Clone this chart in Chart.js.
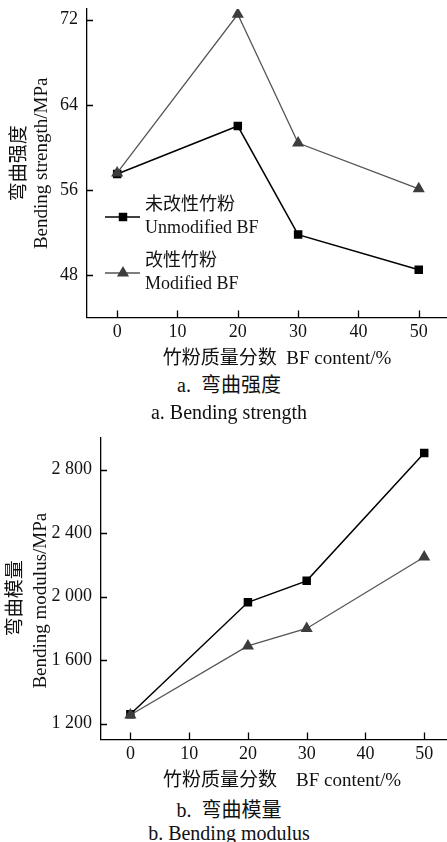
<!DOCTYPE html>
<html>
<head>
<meta charset="utf-8">
<script src="https://cdn.jsdelivr.net/npm/chart.js@4.4.1/dist/chart.umd.min.js"></script>
<style>
  html, body { margin: 0; padding: 0; background: #fff; }
  body { width: 447px; height: 842px; overflow: hidden; position: relative;
         font-family: "Liberation Serif", "Noto Sans CJK SC", serif; color: #111; }
  canvas { position: absolute; left: 0; }
  #chart-a { top: 0; }
  #chart-b { top: 420px; }
  .caption { position: absolute; left: 0; width: 458px; text-align: center; font-size: 20px; line-height: 24px; }
</style>
</head>
<body>
<canvas id="chart-a" width="474" height="370"></canvas>
<canvas id="chart-b" width="470" height="372"></canvas>
<div class="caption" style="top:373px">a.&nbsp;&nbsp;弯曲强度</div>
<div class="caption" style="top:400px">a. Bending strength</div>
<div class="caption" style="top:798px">b.&nbsp;&nbsp;弯曲模量</div>
<div class="caption" style="top:821px">b. Bending modulus</div>
<script>
// BF content (%) on the x axis
const bfContent = [0, 20, 30, 50];
const xTicks = [0, 10, 20, 30, 40, 50];

// a. bending strength, MPa
const strengthUnmod = [57.5, 62.0, 51.8, 48.5];
const strengthMod = [57.6, 72.5, 60.4, 56.1];
const strengthTicks = [48, 56, 64, 72];

// b. bending modulus, MPa
const modulusUnmod = [1260, 1965, 2100, 2905];
const modulusMod = [1255, 1690, 1800, 2250];
const modulusTicks = [1200, 1600, 2000, 2400, 2800];

const seriesNames = [['未改性竹粉', 'Unmodified BF'], ['改性竹粉', 'Modified BF']];
const xTitle = ['竹粉质量分数  BF content/%', '竹粉质量分数    BF content/%'];

const FONT = '"Liberation Serif", "Noto Sans CJK SC", serif';
const BLACK = '#000';
const GREY_LINE = '#555';
const GREY_MARK = '#3d3d3d';
const NBSP = '\u00a0';

function toPoints(values) {
    return bfContent.map((x, i) => ({ x: x, y: values[i] }));
}

function spaced(v) {
    // 2800 -> "2 800"
    return String(v).replace(/\B(?=(\d{3})+(?!\d))/g, ' ');
}

// short tick marks pointing into the plot
const innerTicks = {
    id: 'innerTicks',
    afterDraw(chart) {
        const { ctx, chartArea, scales } = chart;
        ctx.save();
        ctx.strokeStyle = BLACK;
        ctx.lineWidth = 1.3;
        ctx.beginPath();
        scales.x.ticks.forEach(t => {
            const px = Math.round(scales.x.getPixelForValue(t.value)) + 0.5;
            ctx.moveTo(px, chartArea.bottom);
            ctx.lineTo(px, chartArea.bottom - 7);
        });
        scales.y.ticks.forEach(t => {
            const py = Math.round(scales.y.getPixelForValue(t.value)) + 0.5;
            ctx.moveTo(chartArea.left, py);
            ctx.lineTo(chartArea.left + 6, py);
        });
        ctx.stroke();
        ctx.restore();
    }
};

// two-line legend drawn inside chart a
const inlineLegend = {
    id: 'inlineLegend',
    afterDraw(chart, args, opts) {
        if (!opts.show) return;
        const { ctx, chartArea } = chart;
        const x0 = chartArea.left + 18;
        const rows = [
            { y: chartArea.top + 208, line: BLACK, fill: BLACK, style: 'rect', r: 6 },
            { y: chartArea.top + 264, line: GREY_LINE, fill: GREY_MARK, style: 'triangle', r: 7 }
        ];
        ctx.save();
        rows.forEach((row, i) => {
            ctx.strokeStyle = row.line;
            ctx.lineWidth = 1.4;
            ctx.beginPath();
            ctx.moveTo(x0, row.y);
            ctx.lineTo(x0 + 35, row.y);
            ctx.stroke();
            ctx.fillStyle = row.fill;
            Chart.helpers.drawPoint(ctx, { pointStyle: row.style, radius: row.r, borderWidth: 0 }, x0 + 18, row.y);
            ctx.fillStyle = '#111';
            ctx.font = '18px ' + FONT;
            ctx.textBaseline = 'middle';
            ctx.textAlign = 'left';
            ctx.fillText(seriesNames[i][0], x0 + 40, row.y - 12);
            ctx.fillText(seriesNames[i][1], x0 + 40, row.y + 11);
        });
        ctx.restore();
    }
};

function makeChart(id, cfg) {
    const datasets = [
        {
            label: seriesNames[1][1],
            data: toPoints(cfg.mod),
            borderColor: GREY_LINE,
            borderWidth: 1.3,
            pointStyle: 'triangle',
            pointRadius: 7,
            pointBackgroundColor: GREY_MARK,
            pointBorderColor: GREY_MARK,
            pointBorderWidth: 0
        },
        {
            label: seriesNames[0][1],
            data: toPoints(cfg.unmod),
            borderColor: BLACK,
            borderWidth: 1.5,
            pointStyle: 'rect',
            pointRadius: 6,
            pointBackgroundColor: BLACK,
            pointBorderColor: BLACK,
            pointBorderWidth: 0
        }
    ];

    return new Chart(document.getElementById(id), {
        type: 'line',
        data: { datasets: datasets },
        plugins: [innerTicks, inlineLegend],
        options: {
            responsive: false,
            animation: false,
            events: [],
            layout: { padding: { top: cfg.padTop, right: 0, bottom: 0, left: 0 } },
            plugins: {
                legend: { display: false },
                tooltip: { enabled: false },
                inlineLegend: { show: cfg.legend }
            },
            scales: {
                x: {
                    type: 'linear',
                    min: -5,
                    max: cfg.xMax,
                    afterBuildTicks: s => { s.ticks = xTicks.map(v => ({ value: v })); },
                    afterFit: s => { s.paddingLeft = 0; s.paddingRight = 0; },
                    ticks: {
                        color: '#111',
                        padding: 4,
                        font: { family: FONT, size: 18 }
                    },
                    grid: { drawOnChartArea: false, drawTicks: false },
                    border: { display: true, color: BLACK, width: 1.3 },
                    title: {
                        display: true,
                        text: cfg.xTitle,
                        color: '#111',
                        padding: { top: 0, bottom: 0 },
                        font: { family: FONT, size: 19 }
                    }
                },
                y: {
                    min: cfg.yMin,
                    max: cfg.yMax,
                    afterBuildTicks: s => { s.ticks = cfg.yTicks.map(v => ({ value: v })); },
                    afterFit: s => { s.width = cfg.yWidth; s.paddingTop = 0; s.paddingBottom = 0; },
                    ticks: {
                        color: '#111',
                        padding: 9,
                        font: { family: FONT, size: 18 },
                        callback: v => spaced(v)
                    },
                    grid: { drawOnChartArea: false, drawTicks: false },
                    border: { display: true, color: BLACK, width: 1.3 },
                    title: {
                        display: true,
                        text: cfg.yTitle,
                        color: '#111',
                        padding: { top: cfg.yTitlePad, bottom: 0 },
                        font: { family: FONT, size: 19, lineHeight: cfg.yTitleLH }
                    }
                }
            }
        }
    });
}

makeChart('chart-a', {
    mod: strengthMod, unmod: strengthUnmod,
    xMax: 58, yMin: 44, yMax: 73, yTicks: strengthTicks,
    yWidth: 87, padTop: 9, legend: true,
    xTitle: xTitle[0],
    yTitle: ['弯曲强度', 'Bending strength/MPa'], yTitlePad: 9, yTitleLH: 1.16
});

makeChart('chart-b', {
    mod: modulusMod, unmod: modulusUnmod,
    xMax: 56.6, yMin: 1100, yMax: 3000, yTicks: modulusTicks,
    yWidth: 101, padTop: 18, legend: false,
    xTitle: xTitle[1],
    // trailing spaces push the rotated title a little lower, as in the source figure
    yTitle: ['弯曲模量' + NBSP.repeat(4), 'Bending modulus/MPa' + NBSP.repeat(5)], yTitlePad: 4, yTitleLH: 1.3
});
</script>
</body>
</html>
